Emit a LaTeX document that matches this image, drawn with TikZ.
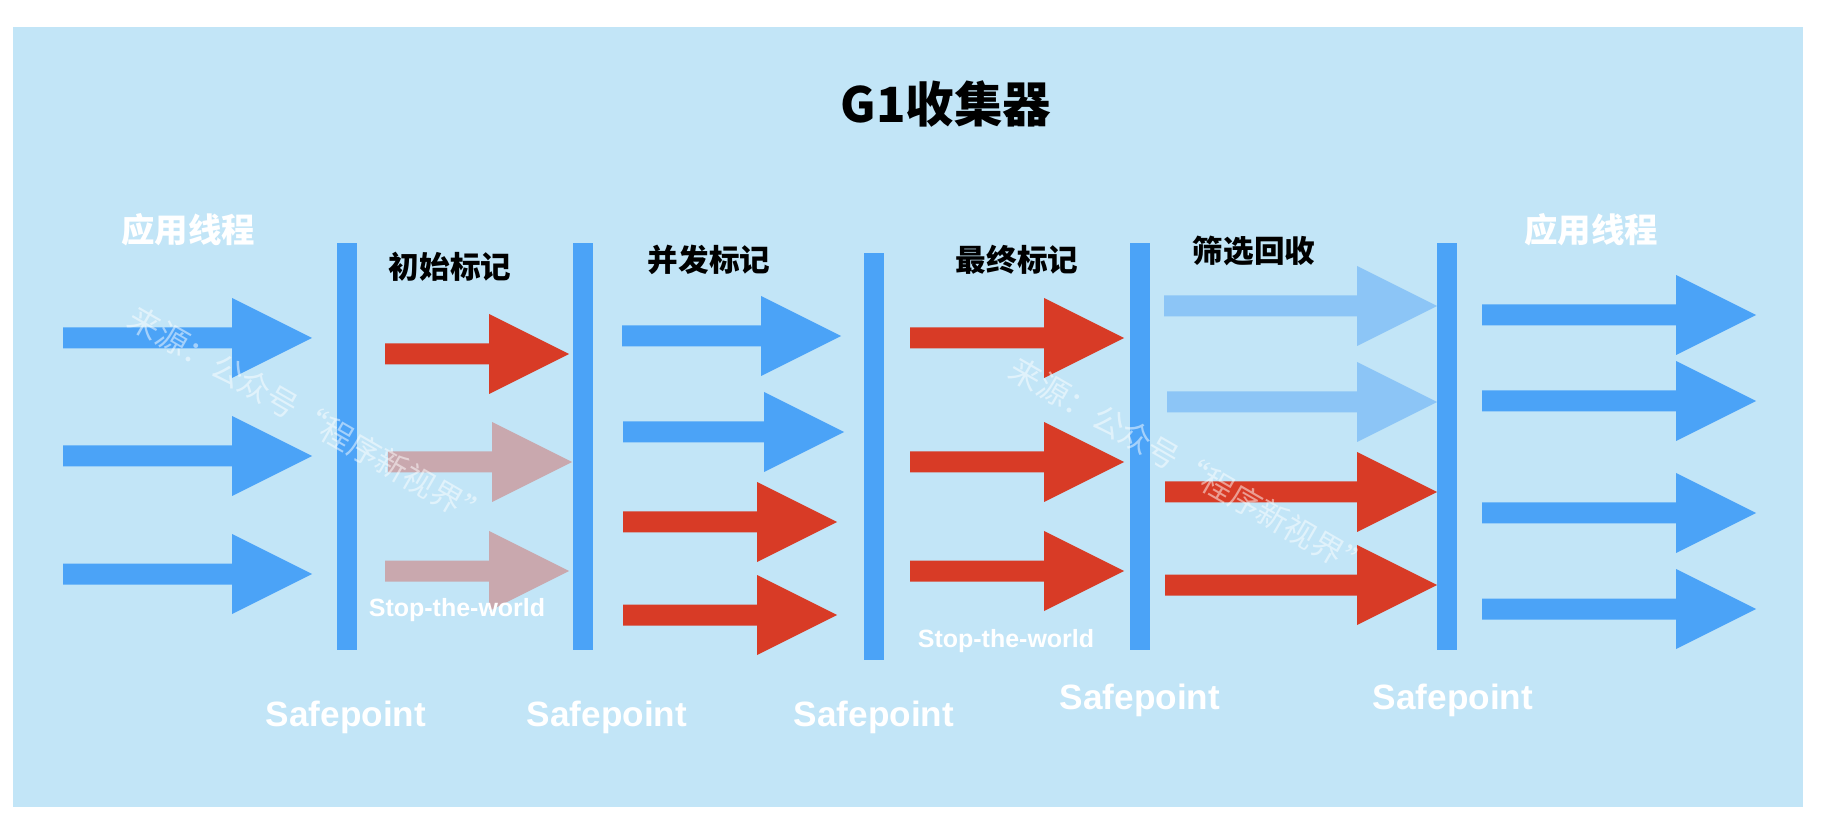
\documentclass[tikz,border=0pt]{standalone}
\usepackage{fontspec}
\setmainfont{Liberation Sans}
\newfontfamily\cjk{Noto Sans CJK SC}
\usepackage{tikz}
\definecolor{bgblue}{RGB}{194,229,247}
\definecolor{barblue}{RGB}{75,163,247}
\definecolor{stwred}{RGB}{216,59,38}
\definecolor{fadered}{RGB}{201,168,174}
\definecolor{paleblue}{RGB}{140,197,246}
\tikzset{
  spbar/.style={fill=barblue, inner sep=0pt, minimum width=0.2cm, minimum height=4.07cm},
  gctitle/.style={font=\cjk\bfseries\fontsize{13.8}{16}\selectfont, text=black},
  phase/.style={font=\cjk\bfseries\fontsize{8.7}{10}\selectfont, text=black},
  thread/.style={font=\cjk\bfseries\fontsize{9.5}{11}\selectfont, text=white},
  splabel/.style={font=\bfseries\fontsize{10}{12}\selectfont, text=white},
  stwlabel/.style={font=\bfseries\fontsize{7.1}{8}\selectfont, text=white},
  wmark/.style={font=\cjk\fontsize{9}{10}\selectfont, text=white, text opacity=0.5, rotate=-30}
}

\begin{document}
\begin{tikzpicture}[x=0.01cm, y=-0.01cm]
  \useasboundingbox (0,0) rectangle (1822,828);
  \fill[bgblue] (13,27) rectangle (1803,807);
  % block arrows: start / tip / row / colour
  \foreach \a/\b/\y/\c in {63/312/338/barblue, 63/312/456/barblue, 63/312/574/barblue,
      385/569/354/stwred, 388/572/462/fadered, 385/569/571/fadered,
      622/841/336/barblue, 623/844/432/barblue, 623/837/522/stwred, 623/837/615/stwred,
      910/1124/338/stwred, 910/1124/462/stwred, 910/1124/571/stwred,
      1164/1437/306/paleblue, 1167/1437/402/paleblue, 1165/1437/492/stwred, 1165/1437/585/stwred,
      1482/1756/315/barblue, 1482/1756/401/barblue, 1482/1756/513/barblue, 1482/1756/609/barblue}
    \fill[\c] (\a,\y-10.5) -- (\b-80,\y-10.5) -- (\b-80,\y-40) -- (\b,\y)
      -- (\b-80,\y+40) -- (\b-80,\y+10.5) -- (\a,\y+10.5) -- cycle;
  \node[spbar] (sp1) at (346.5,446.5) {};
  \node[spbar] (sp2) at (582.5,446.5) {};
  \node[spbar] (sp3) at (874,456.5) {};
  \node[spbar] (sp4) at (1139.5,446.5) {};
  \node[spbar] (sp5) at (1446.5,446.5) {};
  \node[gctitle] (title) at (946,104) {G1收集器};
  \node[thread] (appl) at (188,230) {应用线程};
  \node[thread] (appr) at (1591,230) {应用线程};
  \node[phase] (init) at (450,267) {初始标记};
  \node[phase] (conc) at (709,260) {并发标记};
  \node[phase] (remark) at (1017,260) {最终标记};
  \node[phase] (evac) at (1254,251) {筛选回收};
  \node[stwlabel] (stw1) at (457,610) {Stop-the-world};
  \node[stwlabel] (stw2) at (1006,641) {Stop-the-world};
  \node[splabel] (spl1) at (346,717) {Safepoint};
  \node[splabel] (spl2) at (607,717) {Safepoint};
  \node[splabel] (spl3) at (874,717) {Safepoint};
  \node[splabel] (spl4) at (1140,700) {Safepoint};
  \node[splabel] (spl5) at (1453,700) {Safepoint};
  \node[wmark] (wm1) at (310,418) {来源：公众号“程序新视界”};
  \node[wmark] (wm2) at (1191,469) {来源：公众号“程序新视界”};
\end{tikzpicture}
\end{document}
